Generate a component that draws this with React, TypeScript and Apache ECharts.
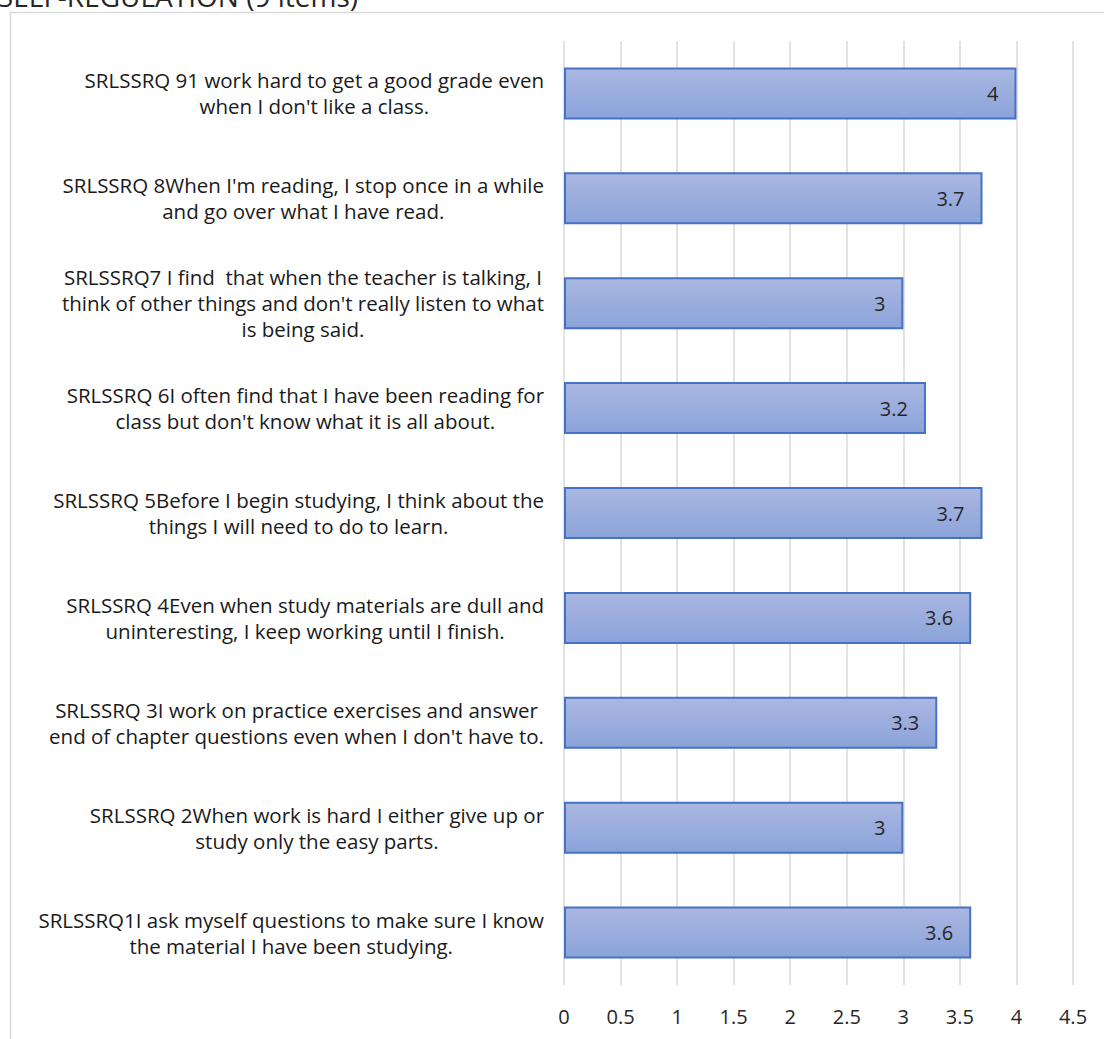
import React, { useEffect, useRef } from "react";
import * as echarts from "echarts";

const title = "SELF-REGULATION (9 items)";

const categories: string[] = [
  "SRLSSRQ 91 work hard to get a good grade even\nwhen I don't like a class.",
  "SRLSSRQ 8When I'm reading, I stop once in a while\nand go over what I have read.",
  "SRLSSRQ7 I find  that when the teacher is talking, I\nthink of other things and don't really listen to what\nis being said.",
  "SRLSSRQ 6I often find that I have been reading for\nclass but don't know what it is all about.",
  "SRLSSRQ 5Before I begin studying, I think about the\nthings I will need to do to learn.",
  "SRLSSRQ 4Even when study materials are dull and\nuninteresting, I keep working until I finish.",
  "SRLSSRQ 3I work on practice exercises and answer\nend of chapter questions even when I don't have to.",
  "SRLSSRQ 2When work is hard I either give up or\nstudy only the easy parts.",
  "SRLSSRQ1I ask myself questions to make sure I know\nthe material I have been studying.",
];

const values: number[] = [4, 3.7, 3, 3.2, 3.7, 3.6, 3.3, 3, 3.6];

const axisMin = 0;
const axisMax = 4.5;
const axisInterval = 0.5;

const FONT = "'Open Sans', sans-serif";

export default function App() {
  const ref = useRef<HTMLDivElement>(null);

  useEffect(() => {
    if (!ref.current) return;
    const chart = echarts.init(ref.current, null, { renderer: "svg" });
    chart.setOption({
      animation: false,
      backgroundColor: "#ffffff",
      textStyle: { fontFamily: FONT },
      graphic: [
        {
          type: "rect",
          shape: { x: 10.5, y: 12.5, width: 1200, height: 1200 },
          style: { fill: "none", stroke: "#d9d9d9", lineWidth: 1.5 },
          z: 0,
        },
        {
          type: "text",
          x: 358,
          y: 10,
          style: {
            text: title,
            font: `28px ${FONT}`,
            fill: "#262626",
            align: "right",
            verticalAlign: "bottom",
          },
        },
      ],
      grid: { left: 564, right: 31, top: 41, bottom: 54, containLabel: false },
      xAxis: {
        type: "value",
        min: axisMin,
        max: axisMax,
        interval: axisInterval,
        axisLine: { show: false },
        axisTick: { show: false },
        splitLine: { show: true, lineStyle: { color: "#d9d9d9", width: 1.5 } },
        axisLabel: {
          color: "#262626",
          fontSize: 20,
          fontFamily: FONT,
          margin: 21,
          formatter: (v: number) => String(v),
        },
      },
      yAxis: {
        type: "category",
        data: categories,
        inverse: true,
        axisLine: { show: false },
        axisTick: { show: false },
        axisLabel: {
          align: "right",
          margin: 20,
          interval: 0,
          formatter: (v: string) =>
            v
              .split("\n")
              .map((l) => `{a|${l}}`)
              .join("\n"),
          rich: {
            a: {
              align: "center",
              fontSize: 20.5,
              lineHeight: 26,
              fontFamily: FONT,
              color: "#1a1a1a",
            },
          },
        },
      },
      series: [
        {
          type: "bar",
          data: values,
          barWidth: 52,
          itemStyle: {
            color: new echarts.graphic.LinearGradient(0, 0, 0, 1, [
              { offset: 0, color: "#aab7e1" },
              { offset: 1, color: "#8ba3da" },
            ]),
            borderColor: "#4472c4",
            borderWidth: 2,
          },
          label: {
            show: true,
            position: "insideRight",
            distance: 18,
            color: "#262626",
            fontSize: 20,
            fontFamily: FONT,
          },
        },
      ],
    });
    return () => chart.dispose();
  }, []);

  return (
    <div
      ref={ref}
      style={{ position: "absolute", left: 0, top: 0, width: 1104, height: 1039 }}
    />
  );
}
